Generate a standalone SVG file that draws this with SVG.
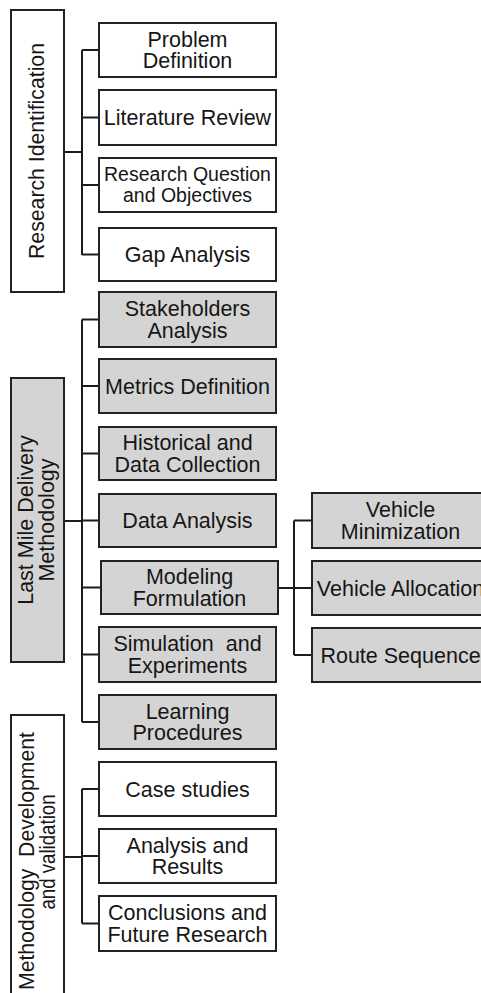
<svg xmlns="http://www.w3.org/2000/svg" width="481" height="993" viewBox="0 0 481 993">
<style>
.b{fill:#ffffff;stroke:#222;stroke-width:2}
.g{fill:#d4d4d4;stroke:#222;stroke-width:2}
.t{font-family:"Liberation Sans",Arial,sans-serif;font-size:21.5px;fill:#161616;text-anchor:middle}
.c{fill:none;stroke:#1c1c1c;stroke-width:2}
</style>
<rect width="481" height="993" fill="#ffffff"/>
<g id="connectors">
<path class="c" d="M64 152H82M82 50V255M82 50H99M82 117.5H99M82 185H99M82 254.5H99"/>
<path class="c" d="M64 521H82M82 319.5V722M82 319.5H99M82 386H99M82 453.5H99M82 520.5H99M82 587.5H101M82 654.5H99M82 722H99"/>
<path class="c" d="M64 857H82M82 789V923.5M82 789H99M82 856H99M82 923.5H99"/>
<path class="c" d="M278 588H294M294 520.5V655M294 520.5H312M294 588H312M294 655H312"/>
</g>
<g id="research-identification">
<rect class="b" x="11" y="10" width="53" height="282"/>
<text class="t" transform="translate(43.5,151) rotate(-90)" textLength="216" lengthAdjust="spacingAndGlyphs">Research Identification</text>
</g>
<g id="problem-definition">
<rect class="b" x="99" y="23" width="177" height="54"/>
<text class="t" x="187.5" y="46.7">Problem</text>
<text class="t" x="187.5" y="68.3">Definition</text>
</g>
<g id="literature-review">
<rect class="b" x="99" y="90" width="177" height="55"/>
<text class="t" x="187.5" y="125">Literature Review</text>
</g>
<g id="research-question">
<rect class="b" x="99" y="158" width="177" height="54"/>
<text class="t" x="187.5" y="180.5" style="font-size:19.5px">Research Question</text>
<text class="t" x="187.5" y="201.7" style="font-size:19.5px">and Objectives</text>
</g>
<g id="gap-analysis">
<rect class="b" x="99" y="228" width="177" height="53"/>
<text class="t" x="187.5" y="262">Gap Analysis</text>
</g>
<g id="last-mile">
<rect class="g" x="11" y="378" width="53" height="284"/>
<text class="t" transform="translate(32.5,520) rotate(-90)">Last Mile Delivery</text>
<text class="t" transform="translate(54,520) rotate(-90)">Methodology</text>
</g>
<g id="stakeholders">
<rect class="g" x="99" y="292" width="177" height="55"/>
<text class="t" x="187.5" y="316.2">Stakeholders</text>
<text class="t" x="187.5" y="337.8">Analysis</text>
</g>
<g id="metrics">
<rect class="g" x="99" y="359" width="177" height="54"/>
<text class="t" x="187.5" y="393.5">Metrics Definition</text>
</g>
<g id="historical">
<rect class="g" x="99" y="427" width="177" height="53"/>
<text class="t" x="187.5" y="450">Historical and</text>
<text class="t" x="187.5" y="471.8">Data Collection</text>
</g>
<g id="data-analysis">
<rect class="g" x="99" y="494" width="177" height="53"/>
<text class="t" x="187.5" y="528">Data Analysis</text>
</g>
<g id="modeling">
<rect class="g" x="101" y="561" width="177" height="53"/>
<text class="t" x="189.5" y="584.2">Modeling</text>
<text class="t" x="189.5" y="605.8">Formulation</text>
</g>
<g id="simulation">
<rect class="g" x="99" y="627" width="177" height="55"/>
<text class="t" x="187.5" y="651.2" xml:space="preserve">Simulation  and</text>
<text class="t" x="187.5" y="672.8">Experiments</text>
</g>
<g id="learning">
<rect class="g" x="99" y="695" width="177" height="54"/>
<text class="t" x="187.5" y="718.7">Learning</text>
<text class="t" x="187.5" y="740.3">Procedures</text>
</g>
<g id="vehicle-minimization">
<rect class="g" x="312" y="493" width="177" height="55"/>
<text class="t" x="400.5" y="517.2">Vehicle</text>
<text class="t" x="400.5" y="538.8">Minimization</text>
</g>
<g id="vehicle-allocation">
<rect class="g" x="312" y="561" width="177" height="54"/>
<text class="t" x="400.5" y="595.5">Vehicle Allocation</text>
</g>
<g id="route-sequence">
<rect class="g" x="312" y="628" width="177" height="54"/>
<text class="t" x="400.5" y="662.5">Route Sequence</text>
</g>
<g id="methodology-development">
<rect class="b" x="11" y="715" width="53" height="295"/>
<text class="t" transform="translate(34,861) rotate(-90)" xml:space="preserve" textLength="258" lengthAdjust="spacingAndGlyphs">Methodology  Development</text>
<text class="t" transform="translate(54.5,852) rotate(-90)" textLength="115" lengthAdjust="spacingAndGlyphs">and validation</text>
</g>
<g id="case-studies">
<rect class="b" x="99" y="762" width="177" height="54"/>
<text class="t" x="187.5" y="796.5">Case studies</text>
</g>
<g id="analysis-results">
<rect class="b" x="99" y="829" width="177" height="54"/>
<text class="t" x="187.5" y="852.7">Analysis and</text>
<text class="t" x="187.5" y="874.3">Results</text>
</g>
<g id="conclusions">
<rect class="b" x="99" y="896" width="177" height="55"/>
<text class="t" x="187.5" y="920.2">Conclusions and</text>
<text class="t" x="187.5" y="941.8">Future Research</text>
</g>
</svg>
